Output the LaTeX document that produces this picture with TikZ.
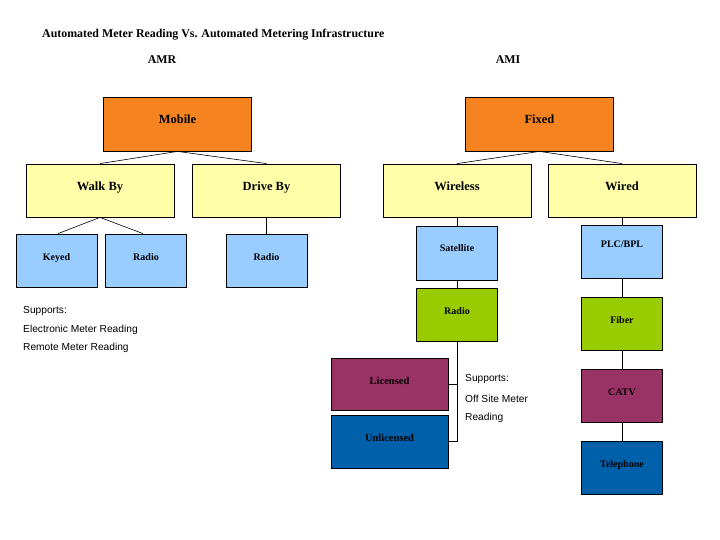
\documentclass[tikz,border=0pt]{standalone}
\usepackage{fontspec}
\setmainfont{Liberation Serif}
\setsansfont{Liberation Sans}
\definecolor{cOrange}{RGB}{245,132,32}
\definecolor{cYellow}{RGB}{255,255,170}
\definecolor{cLBlue}{RGB}{153,204,255}
\definecolor{cGreen}{RGB}{153,204,0}
\definecolor{cPurple}{RGB}{153,51,102}
\definecolor{cBlue}{RGB}{0,96,170}
\tikzset{
  box/.style={draw=black, line width=0.8pt, inner sep=0pt, align=center, text depth=7pt},
  big/.style={box, text depth=9pt, minimum width=148pt, minimum height=54pt, font=\fontsize{12.5}{14}\selectfont\bfseries},
  small/.style={box, minimum width=81pt, minimum height=53pt, font=\fontsize{10}{12}\selectfont\bfseries},
  wide/.style={box, minimum width=117pt, minimum height=53pt, font=\fontsize{10.5}{12}\selectfont\bfseries},
  link/.style={draw=black, line width=0.6pt},
  note/.style={anchor=west, inner sep=0pt, font=\sffamily\fontsize{10.2}{12}\selectfont},
  head/.style={inner sep=0pt, font=\fontsize{11.9}{13}\selectfont\bfseries}
}
\begin{document}
\begin{tikzpicture}[x=1pt,y=-1pt]
\useasboundingbox (0,0) rectangle (720,540);
% headings
\node[head, anchor=west] (title) at (42,35) {Automated Meter Reading Vs. Automated Metering Infrastructure};
\node[head] (amr) at (162,60) {AMR};
\node[head] (ami) at (508,60) {AMI};
% level 1
\node[big, fill=cOrange] (mobile) at (177.5,124) {Mobile};
\node[big, fill=cOrange] (fixed) at (539.5,124) {Fixed};
% level 2
\node[big, fill=cYellow, minimum height=53pt] (walk) at (100,190.5) {Walk By};
\node[big, fill=cYellow, minimum height=53pt] (drive) at (266.5,190.5) {Drive By};
\node[big, fill=cYellow, minimum height=53pt] (wireless) at (457,190.5) {Wireless};
\node[big, fill=cYellow, minimum height=53pt] (wired) at (622,190.5) {Wired};
% level 3
\node[small, fill=cLBlue] (keyed) at (56.5,260.5) {Keyed};
\node[small, fill=cLBlue] (radioa) at (146,260.5) {Radio};
\node[small, fill=cLBlue] (radiob) at (266.5,260.5) {Radio};
\node[small, fill=cLBlue, minimum height=54pt, text depth=10pt] (sat) at (457,253) {Satellite};
\node[small, fill=cLBlue, text depth=14pt] (plc) at (622,251.5) {PLC/BPL};
\node[small, fill=cGreen] (radiog) at (457,314.5) {Radio};
\node[small, fill=cGreen] (fiber) at (622,323.5) {Fiber};
\node[small, fill=cPurple] (catv) at (622,395.5) {CATV};
\node[small, fill=cBlue] (tel) at (622,467.5) {Telephone};
\node[wide, fill=cPurple, minimum height=52pt] (lic) at (389.5,384) {Licensed};
\node[wide, fill=cBlue] (unlic) at (389.5,441.5) {Unlicensed};
% connectors
\draw[link] (mobile.south) -- (walk.north);
\draw[link] (mobile.south) -- (drive.north);
\draw[link] (walk.south) -- ([xshift=1.5pt]keyed.north);
\draw[link] (walk.south) -- ([xshift=-3pt]radioa.north);
\draw[link] (drive.south) -- (radiob.north);
\draw[link] (fixed.south) -- (wireless.north);
\draw[link] (fixed.south) -- (wired.north);
\draw[link] (wireless.south) -- (sat.north);
\draw[link] (sat.south) -- (radiog.north);
\draw[link] (wired.south) -- (plc.north);
\draw[link] (plc.south) -- (fiber.north);
\draw[link] (fiber.south) -- (catv.north);
\draw[link] (catv.south) -- (tel.north);
\draw[link] (radiog.south) |- (unlic.east);
\draw[link] (radiog.south |- lic.east) -- (lic.east);
% notes
\node[note] (s1) at (23,311) {Supports:};
\node[note] (s2) at (23,329.5) {Electronic Meter Reading};
\node[note] (s3) at (23,348) {Remote Meter Reading};
\node[note] (t1) at (465,379) {Supports:};
\node[note] (t2) at (465,398.5) {Off Site Meter};
\node[note] (t3) at (465,418) {Reading};
\end{tikzpicture}
\end{document}
